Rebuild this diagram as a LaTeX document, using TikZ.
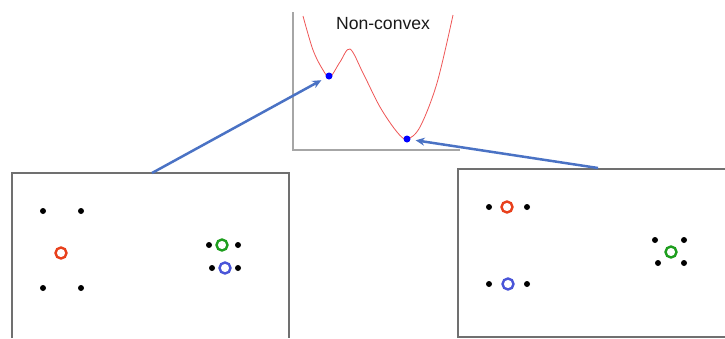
\documentclass[tikz,border=0pt]{standalone}
\usepackage{fontspec}
\setmainfont{Liberation Sans}
\usetikzlibrary{arrows.meta, positioning}
\definecolor{arrowBlue}{HTML}{4A72C4}
\definecolor{curveRed}{HTML}{EE5555}
\definecolor{ringRed}{HTML}{E8401C}
\definecolor{ringGreen}{HTML}{1E9E1E}
\definecolor{ringBlue}{HTML}{4A55D8}
\definecolor{frameGray}{HTML}{707070}

\begin{document}
\begin{tikzpicture}[x=1pt, y=-1pt,
    marco/.style={draw=frameGray, line width=1.5pt},
    eje/.style={draw=gray!70, line width=1.1pt},
    blackdot/.style={circle, fill=black, inner sep=0pt, minimum size=6pt},
    ring/.style={circle, draw, line width=2.4pt, inner sep=0pt, minimum size=11pt},
    mindot/.style={circle, fill=blue, inner sep=0pt, minimum size=7pt},
    fl/.style={-{Stealth[length=9pt, width=8pt]}, line width=2.5pt, color=arrowBlue, shorten >=5pt}]
  \useasboundingbox (0,0) rectangle (725,338);
  % plot with the non-convex curve
  \draw[eje] (293,12) -- (293,150) -- (460,150);
  \draw[curveRed, line width=0.8pt] plot[smooth, tension=0.55] coordinates {
      (303,16) (313,50) (323,70) (330,77) (340,62) (350,49) (363,73)
      (380,107) (397,132) (407,139) (420,127) (437,83) (453,15)};
  \node[font=\fontsize{17.6}{20}\selectfont, text=black!90] (titulo) at (383,24) {Non-convex};
  \node[mindot] (locmin) at (329,76) {};
  \node[mindot] (globmin) at (407,139) {};
  % left frame
  \draw[marco] (12,338) -- (12,173) -- (289,173) -- (289,338);
  \node[blackdot] (l1) at (43,211) {};
  \node[blackdot] (l2) at (81,211) {};
  \node[blackdot] (l3) at (43,288) {};
  \node[blackdot] (l4) at (81,288) {};
  \node[ring, color=ringRed] (lred) at (61,253) {};
  \node[ring, color=ringGreen] (lgreen) at (222,245) {};
  \node[blackdot] (l5) at (209,245) {};
  \node[blackdot] (l6) at (238,245) {};
  \node[ring, color=ringBlue] (lblue) at (225,268) {};
  \node[blackdot] (l7) at (212,268) {};
  \node[blackdot] (l8) at (238,268) {};
  % right frame
  \draw[marco] (725,169) -- (458,169) -- (458,337) -- (725,337);
  \node[ring, color=ringRed] (rred) at (507,207) {};
  \node[blackdot] (r1) at (489,207) {};
  \node[blackdot] (r2) at (527,207) {};
  \node[ring, color=ringBlue] (rblue) at (508,284) {};
  \node[blackdot] (r3) at (489,284) {};
  \node[blackdot] (r4) at (527,284) {};
  \node[ring, color=ringGreen] (rgreen) at (671,252) {};
  \node[blackdot] (r5) at (655,240) {};
  \node[blackdot] (r6) at (684,240) {};
  \node[blackdot] (r7) at (658,263) {};
  \node[blackdot] (r8) at (684,263) {};
  % arrows
  \coordinate (lsrc) at (152,173);
  \coordinate (rsrc) at (598,168);
  \draw[fl] (lsrc) -- (locmin);
  \draw[fl] (rsrc) -- (globmin);
\end{tikzpicture}
\end{document}
